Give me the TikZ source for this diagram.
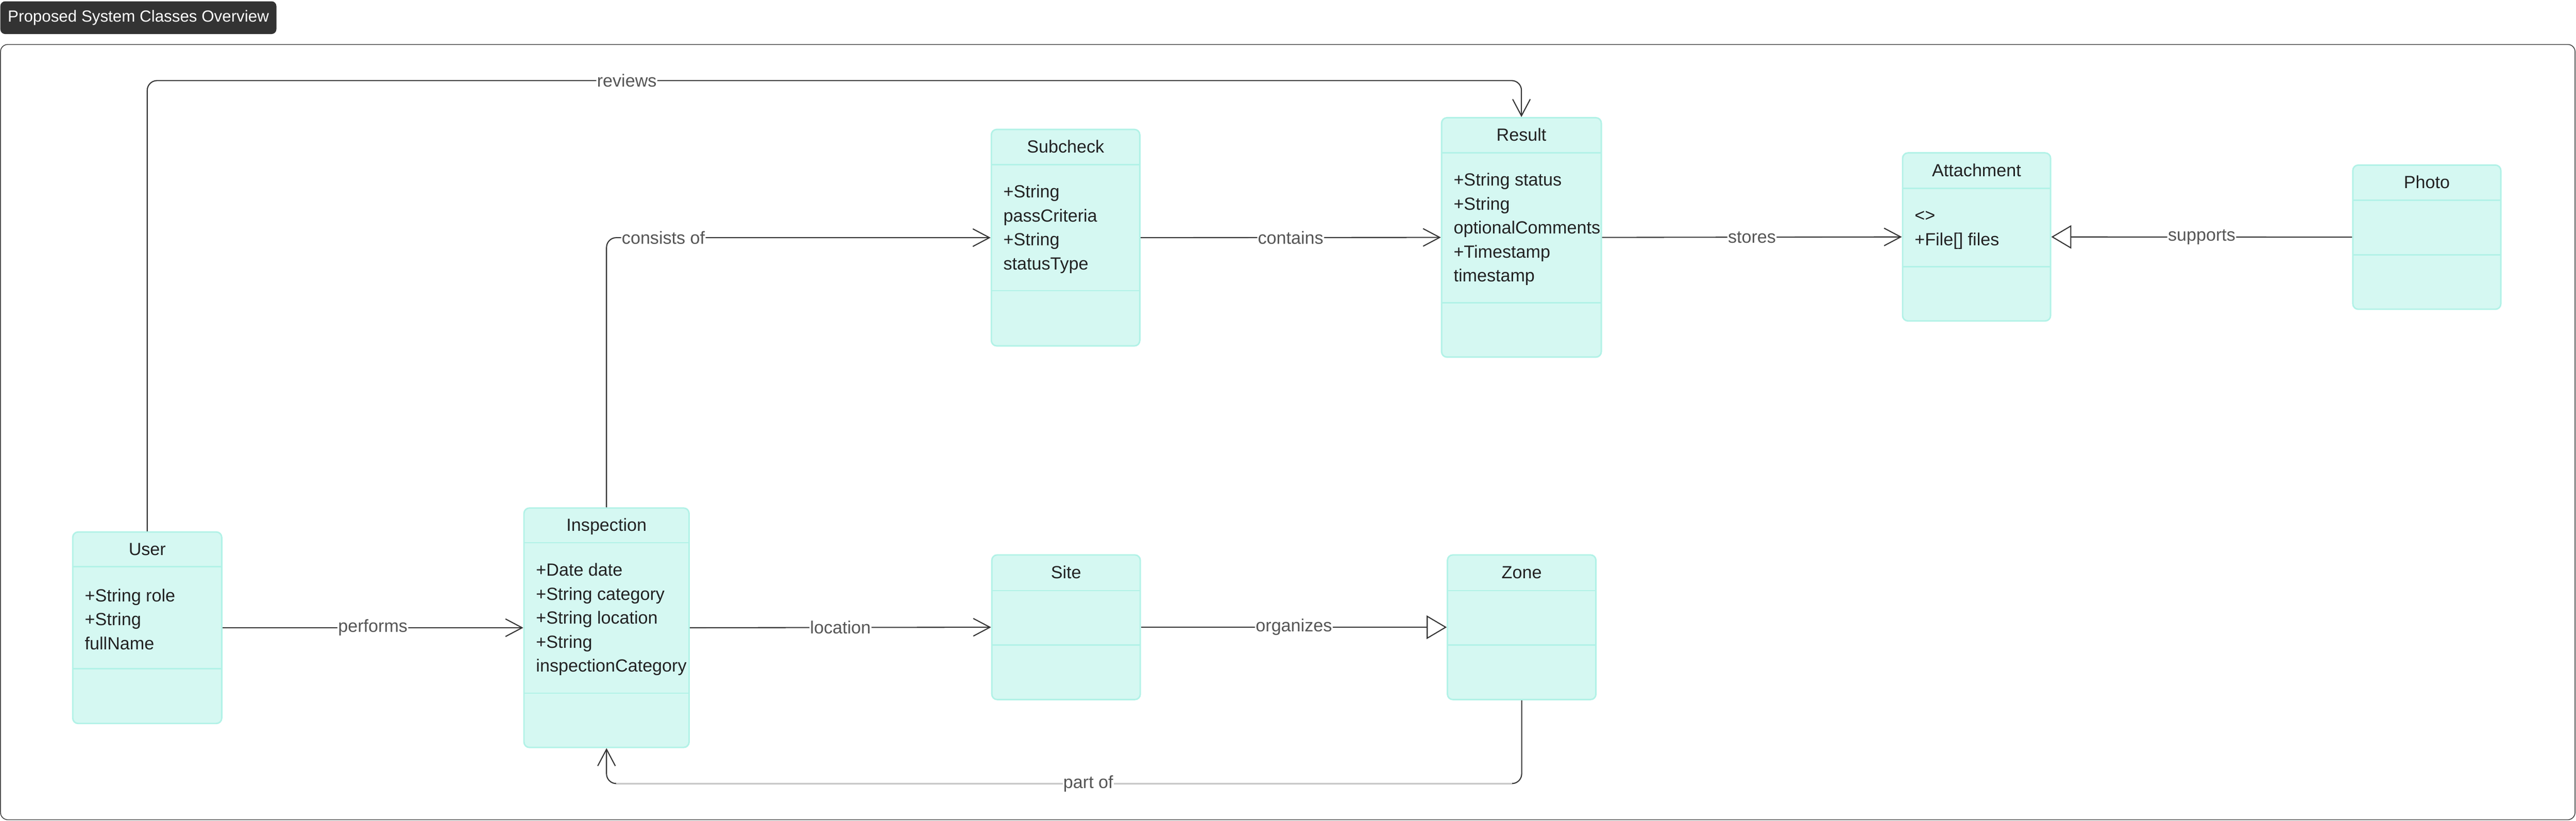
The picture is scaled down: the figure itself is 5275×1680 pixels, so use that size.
\documentclass[tikz,border=0pt]{standalone}
\usepackage{fontspec}
\setmainfont{Liberation Sans}
\usetikzlibrary{arrows.meta,fit,calc}
\definecolor{mintfill}{HTML}{D5F8F2}
\definecolor{mintline}{HTML}{B2F2E7}
\definecolor{ink}{HTML}{333333}
\definecolor{lblgray}{HTML}{555555}
\definecolor{txtdark}{HTML}{222222}
\definecolor{faintline}{HTML}{CCCCCC}
\newcommand{\clsfont}{\fontsize{10.24}{13.94}\selectfont}
\newcommand{\badgefont}{\fontsize{9.4}{11}\selectfont}
% name, x1, x2, ytop, ydiv1, ydiv2, ybot, title
\newcommand{\umlclass}[8]{%
  \node[classbox, fit={(#2,#4) (#3,#7)}] (#1) {};
  \draw[divider] (#2,#5) -- (#3,#5);
  \draw[divider] (#2,#6) -- (#3,#6);
  \node[ctitle] (#1-title) at ({(#2+#3)/2},{(#4+#5)/2+12}) {#8};
}
% name, x1, ydiv1, ydiv2, text
\newcommand{\umlattrs}[5]{%
  \node[cattr] (#1-attrs) at ({#2+24},{(#3+#4)/2+3}) {\vphantom{+S}#5};
}
\begin{document}
\begin{tikzpicture}[x=0.01cm,y=-0.01cm,
  classbox/.style={draw=mintline, fill=mintfill, line width=0.03cm, rounded corners=0.11cm, inner sep=0pt},
  divider/.style={draw=mintline, line width=0.03cm},
  ctitle/.style={anchor=base, inner sep=0pt, text=txtdark, font=\clsfont},
  cattr/.style={anchor=west, inner sep=0pt, align=left, text=txtdark, font=\clsfont},
  conn/.style={draw=ink, line width=0.022cm, rounded corners=0.2cm},
  vhead/.style={-{Straight Barb[length=0.34cm,width=0.36cm]}},
  thead/.style={-{Triangle[open,length=0.41cm,width=0.48cm,fill=white]}},
  lbl/.style={fill=white, text=lblgray, font=\clsfont, inner sep=0.015cm}
]
\useasboundingbox (0,0) rectangle (5275,1680);

% title badge and frame
\node[fill=ink, rounded corners=0.1cm, text=white, font=\badgefont,
      minimum width=5.65cm, minimum height=0.67cm, inner sep=0pt, anchor=north west]
      (badge) at (0,2) {Proposed System Classes Overview};
\draw[ink, line width=0.015cm, rounded corners=0.15cm] (1,91) rectangle (5273,1678);

% classes
\umlclass{user}{149}{454}{1089}{1160}{1369}{1481}{User}
\umlattrs{user}{149}{1160}{1369}{+String role\\+String\\fullName}
\umlclass{insp}{1073}{1411}{1040}{1111}{1419}{1530}{Inspection}
\umlattrs{insp}{1073}{1111}{1419}{+Date date\\+String category\\+String location\\+String\\inspectionCategory}
\umlclass{sub}{2030}{2334}{265}{337}{595}{708}{Subcheck}
\umlattrs{sub}{2030}{337}{595}{+String\\passCriteria\\+String\\statusType}
\umlclass{result}{2952}{3279}{241}{313}{620}{731}{Result}
\umlattrs{result}{2952}{313}{620}{+String status\\+String\\optionalComments\\+Timestamp\\timestamp}
\umlclass{attach}{3896}{4199}{313}{386}{546}{657}{Attachment}
\umlattrs{attach}{3896}{386}{546}{<>\\+File[] files}
\umlclass{photo}{4818}{5121}{338}{410}{522}{633}{Photo}
\umlclass{site}{2031}{2335}{1136}{1209}{1320}{1432}{Site}
\umlclass{zone}{2964}{3268}{1136}{1209}{1320}{1432}{Zone}

% routing levels
\coordinate (revy) at (0,165);
\coordinate (pb) at (0,1604);

% connectors
\draw[conn, vhead] (user.north) -- (user.north |- revy)
  -- node[lbl, pos=0.349] {reviews} (result.north |- revy) -- (result.north);
\draw[conn, vhead] (insp.north) -- (insp.north |- sub.west)
  -- node[lbl, pos=0.148] {consists of} (sub.west);
\draw[conn, vhead] (sub.east) -- node[lbl] {contains} (result.west);
\draw[conn, vhead] (result.east) -- node[lbl] {stores} (attach.west);
\draw[conn, thead] (photo.west) -- node[lbl] {supports} (attach.east);
\draw[conn, vhead] (user.east) -- node[lbl] {performs} (insp.west);
\draw[conn, vhead] (insp.east) -- node[lbl] {location} (site.west);
\draw[conn, thead] (site.east) -- node[lbl] {organizes} (zone.west);
\draw[conn, vhead] (zone.south) -- (zone.south |- pb) -- (insp.south |- pb) -- (insp.south);
\draw[faintline, line width=0.022cm] ($(zone.south |- pb)+(-20,0)$)
  -- node[lbl, pos=0.473] {part of} ($(insp.south |- pb)+(20,0)$);
\end{tikzpicture}
\end{document}
